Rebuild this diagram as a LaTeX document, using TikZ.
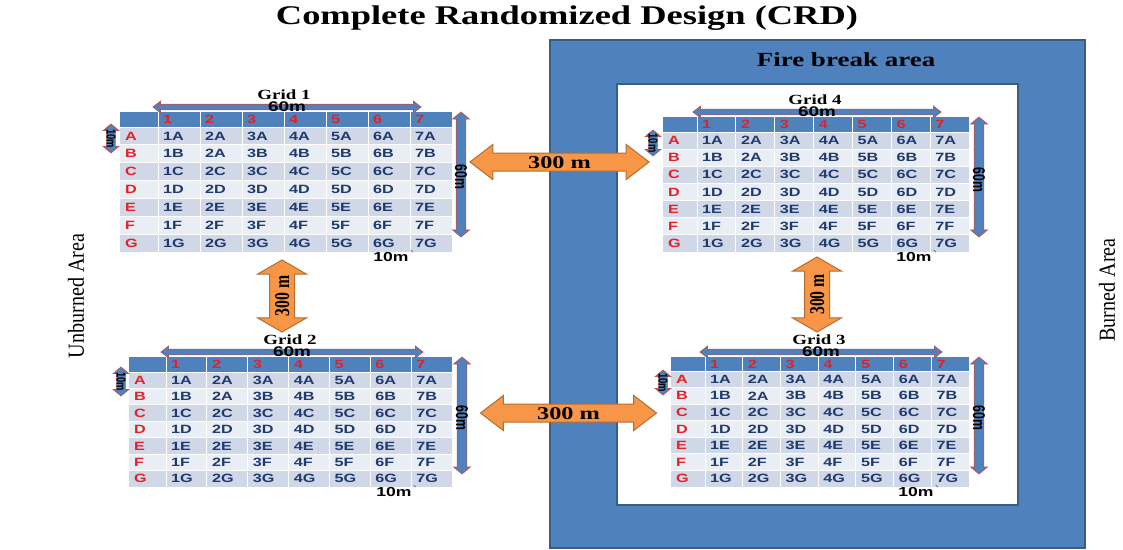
\documentclass[tikz,border=0pt]{standalone}
\usepackage{fontspec}
\setmainfont{Liberation Serif}[FakeStretch=1.35]
\setsansfont{Liberation Sans}[FakeStretch=1.35]
\newfontfamily\tallserif{Liberation Serif}[FakeStretch=0.75]
\newfontfamily\tallsans{Liberation Sans}[FakeStretch=0.72]
\newfontfamily\sideserif{Liberation Serif}[FakeStretch=0.875]
\usetikzlibrary{positioning,shapes.arrows}
\definecolor{crdBlue}{HTML}{4F81BD}
\definecolor{crdBlueDark}{HTML}{385D8A}
\definecolor{crdBandDark}{HTML}{D0D8E8}
\definecolor{crdBandLight}{HTML}{E9EDF4}
\definecolor{crdNavy}{HTML}{1F3A6E}
\definecolor{crdRed}{HTML}{E32227}
\definecolor{crdDimRed}{HTML}{C0504D}
\definecolor{crdOrange}{HTML}{F79646}
\definecolor{crdOrangeDark}{HTML}{B66D31}

\begin{document}
\begin{tikzpicture}[
  x=1pt,y=-1pt,
  every node/.style={inner sep=0pt},
  cell/.style={anchor=west,font=\sffamily\bfseries\fontsize{12}{12}\selectfont,text=crdNavy},
  rowlab/.style={cell,text=crdRed},
  gridtitle/.style={font=\bfseries\fontsize{14}{14}\selectfont},
  dimtext/.style={font=\sffamily\bfseries\fontsize{14}{14}\selectfont},
  celldim/.style={font=\sffamily\bfseries\fontsize{13}{13}\selectfont},
  dimside/.style={font=\tallsans\bfseries\fontsize{17}{17}\selectfont,rotate=-90},
  dimsmall/.style={dimside,font=\tallsans\bfseries\fontsize{13}{13}\selectfont},
  dimarrow/.style={double arrow,draw=crdDimRed,fill=crdBlue,line width=0.7pt,
    double arrow head extend=3pt,double arrow tip angle=76,
    text height=5pt,text depth=0pt},
  dimvert/.style={dimarrow,rotate=90,double arrow head extend=3.5pt,
    double arrow tip angle=100,text height=9pt},
  gap/.style={double arrow,draw=crdOrangeDark,fill=crdOrange,line width=1pt,
    double arrow head extend=8.5pt,double arrow tip angle=75,
    text height=14.6pt,text depth=2.4pt,
    font=\bfseries\fontsize{18}{18}\selectfont},
  gapvert/.style={gap,rotate=90,double arrow head extend=12pt,
    double arrow tip angle=120,text height=19.2pt,text depth=4.8pt,
    font=\tallserif\bfseries\fontsize{21}{21}\selectfont},
  sidelab/.style={rotate=90,font=\sideserif\fontsize{23}{23}\selectfont}
]
  \useasboundingbox (0,0) rectangle (1123,549);

  % burned side
  \draw[crdBlueDark,fill=crdBlue,line width=2pt] (550,40) rectangle (1085,548);
  \draw[crdBlueDark,fill=white,line width=1.2pt] (617,84) rectangle (1018,505);
  \node[font=\bfseries\fontsize{20}{20}\selectfont] (firebreak) at (846,60) {Fire break area};

  % the four plot tables
  \foreach \g/\xl/\yt/\xr/\lw/\yh/\yb in {g1/120/112/452/38/127/252,
      g2/129/357/452/37/372/487, g4/663/117/969/34/132/252, g3/671/357/969/34/371/487}{
    \pgfmathsetmacro\cw{(\xr-\xl-\lw)/7}
    \pgfmathsetmacro\rh{(\yb-\yh)/7}
    \fill[crdBlue] (\xl,\yt) rectangle (\xr,\yh);
    \foreach \r [count=\i from 0] in {A,...,G}{
      \pgfmathsetmacro\ya{\yh+\i*\rh}
      \pgfmathtruncatemacro\odd{mod(\i,2)}
      \ifnum\odd=0 \def\band{crdBandDark}\else\def\band{crdBandLight}\fi
      \fill[\band] (\xl,\ya) rectangle (\xr,{\ya+\rh});
      \node[rowlab] (\g-\r) at ({\xl+5},{\ya+\rh/2}) {\r};
      \foreach \c in {1,...,7}{
        \edef\txt{\c\r}
        \ifnum\i=1 \ifnum\c=2 \def\txt{2A}\fi\fi
        \node[cell] (\g-\c\r) at ({\xl+\lw+(\c-1)*\cw+5},{\ya+\rh/2}) {\txt};
      }
    }
    \foreach \c in {1,...,7}
      \node[rowlab] (\g-h\c) at ({\xl+\lw+(\c-1)*\cw+5},{(\yt+\yh)/2}) {\c};
    \foreach \c in {0,...,7}
      \draw[white,line width=1pt] ({\xl+\lw+\c*\cw},\yt) -- ({\xl+\lw+\c*\cw},\yb);
    \foreach \i in {0,...,6}
      \draw[white,line width=0.8pt] (\xl,{\yh+\i*\rh}) -- (\xr,{\yh+\i*\rh});
  }

  % Grid 1
  \node[gridtitle] (g1name) at (284,95) {Grid 1};
  \node[dimarrow,minimum height=268pt] (g1top) at (287,107) {};
  \node[dimtext] (g1toplab) at (g1top.center) {60m};
  \node[dimvert,minimum height=125pt] (g1side) at (461,174.5) {};
  \node[dimside] (g1sidelab) at (461,177) {60m};
  \node[dimvert,minimum height=29pt,text height=8pt] (g1row) at (111,138.5) {};
  \node[dimsmall] (g1rowlab) at (g1row.center) {10m};
  \node[celldim] (g1cell) at (391,257) {10m};
  \draw[crdBlue,line width=0.8pt] (g1cell.east) ++(2,-7) -- ++(2,2);

  % Grid 2
  \node[gridtitle] (g2name) at (290,340) {Grid 2};
  \node[dimarrow,minimum height=262pt] (g2top) at (292,352) {};
  \node[dimtext] (g2toplab) at (g2top.center) {60m};
  \node[dimvert,minimum height=117pt] (g2side) at (462,415.5) {};
  \node[dimside] (g2sidelab) at (462,418) {60m};
  \node[dimvert,minimum height=29pt,text height=8pt] (g2row) at (121,381.5) {};
  \node[dimsmall] (g2rowlab) at (g2row.center) {10m};
  \node[celldim] (g2cell) at (394,492) {10m};
  \draw[crdBlue,line width=0.8pt] (g2cell.east) ++(2,-7) -- ++(2,2);

  % Grid 4
  \node[gridtitle] (g4name) at (815,100) {Grid 4};
  \node[dimarrow,minimum height=248pt] (g4top) at (817,112) {};
  \node[dimtext] (g4toplab) at (g4top.center) {60m};
  \node[dimvert,minimum height=120pt] (g4side) at (979,177) {};
  \node[dimside] (g4sidelab) at (979,180) {60m};
  \node[dimvert,minimum height=26pt,text height=8pt] (g4row) at (653,143) {};
  \node[dimsmall] (g4rowlab) at (g4row.center) {10m};
  \node[celldim] (g4cell) at (914,257) {10m};
  \draw[crdBlue,line width=0.8pt] (g4cell.east) ++(2,-7) -- ++(2,2);

  % Grid 3
  \node[gridtitle] (g3name) at (819,340) {Grid 3};
  \node[dimarrow,minimum height=242pt] (g3top) at (821,352) {};
  \node[dimtext] (g3toplab) at (g3top.center) {60m};
  \node[dimvert,minimum height=117pt] (g3side) at (979,415.5) {};
  \node[dimside] (g3sidelab) at (979,418) {60m};
  \node[dimvert,minimum height=25pt,text height=8pt] (g3row) at (663,382.5) {};
  \node[dimsmall] (g3rowlab) at (g3row.center) {10m};
  \node[celldim] (g3cell) at (916,492) {10m};
  \draw[crdBlue,line width=0.8pt] (g3cell.east) ++(2,-7) -- ++(2,2);

  % spacing between grids
  \node[gap,minimum height=179pt] (gap14) at (559.5,162) {300 m};
  \node[gap,minimum height=176pt] (gap23) at (568.5,413) {300 m};
  \node[gapvert,minimum height=72pt] (gap12) at (282,296) {300 m};
  \node[gapvert,minimum height=75pt] (gap43) at (817,294.5) {300 m};

  \node[sidelab] (unburned) at (76,296) {Unburned Area};
  \node[sidelab] (burned) at (1107,290) {Burned Area};
  \node[font=\bfseries\fontsize{27}{27}\selectfont] (title) at (567,18)
    {Complete Randomized Design (CRD)};
\end{tikzpicture}
\end{document}
